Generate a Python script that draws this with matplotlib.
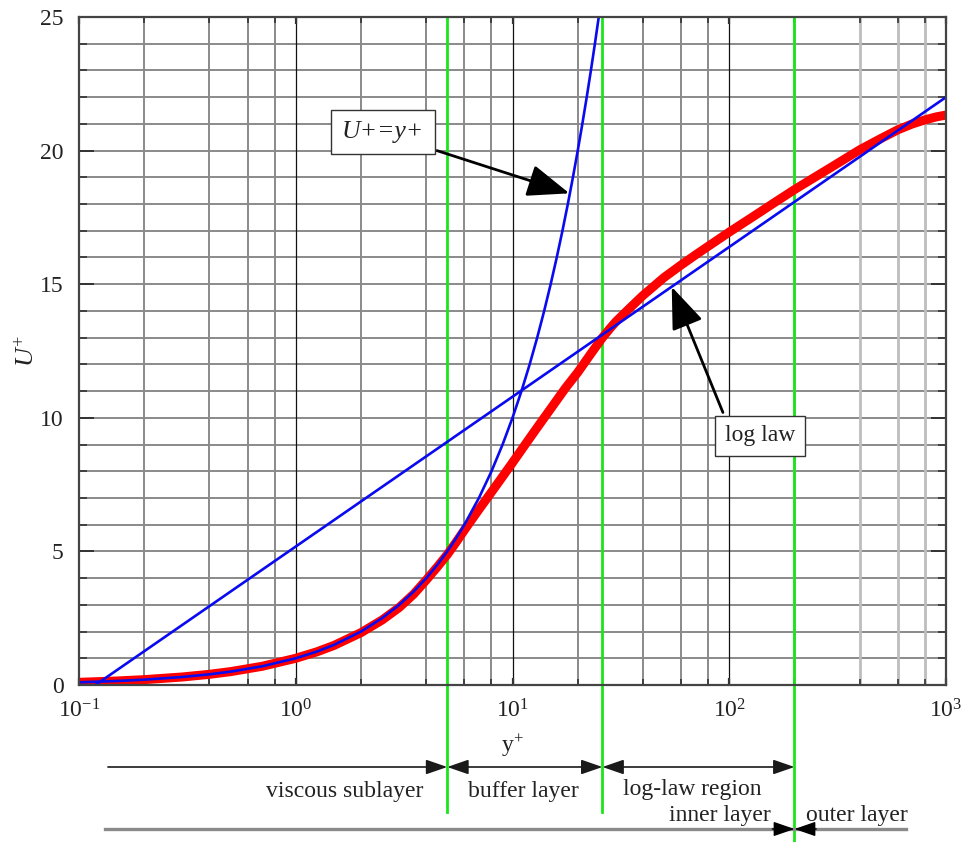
import matplotlib
matplotlib.use("Agg")
import matplotlib.pyplot as plt
from matplotlib.ticker import LogLocator, NullFormatter, MultipleLocator
import matplotlib.transforms as mtransforms

plt.rcParams['font.family'] = ['Liberation Serif', 'DejaVu Serif']
plt.rcParams['mathtext.fontset'] = 'custom'
plt.rcParams['mathtext.rm'] = 'Liberation Serif'
plt.rcParams['mathtext.it'] = 'Liberation Serif:italic'

# ---- data ----
# viscous sublayer law U+ = y+
visc_yplus = [0.1, 0.15, 0.2, 0.3, 0.4, 0.5, 0.7, 1, 1.25, 1.5, 2, 2.5, 3, 3.5, 4, 4.5,
              5, 5.5, 6, 7, 8, 9, 10, 11, 12, 13, 14, 15, 16, 17, 18, 19, 20, 21, 22,
              23, 24, 25]
visc_uplus = [0.1, 0.15, 0.2, 0.3, 0.4, 0.5, 0.7, 1, 1.25, 1.5, 2, 2.5, 3, 3.5, 4, 4.5,
              5, 5.5, 6, 7, 8, 9, 10, 11, 12, 13, 14, 15, 16, 17, 18, 19, 20, 21, 22,
              23, 24, 25]
# log law line
log_yplus = [0.119, 1000]
log_uplus = [0.0, 22.0]
# composite velocity profile (red)
prof_yplus = [0.1, 0.15, 0.2, 0.3, 0.4, 0.5, 0.7, 1, 1.25, 1.5, 2, 2.5, 3, 3.5, 4, 4.5,
              5, 5.5, 6, 7, 8, 9, 10, 11, 12.5, 14, 15.5, 17.5, 20, 23, 26, 28, 30, 35,
              40, 50, 60, 70, 80, 100, 130, 160, 200, 250, 300, 400, 500, 600, 700,
              800, 900, 1000]
prof_uplus = [0.1, 0.15, 0.2, 0.3, 0.4, 0.5, 0.7, 1.0, 1.24, 1.48, 1.96, 2.43, 2.9, 3.4,
              3.93, 4.42, 4.88, 5.35, 5.8, 6.57, 7.22, 7.8, 8.32, 8.8, 9.44, 10.0, 10.5,
              11.1, 11.7, 12.4, 13.0, 13.32, 13.6, 14.13, 14.58, 15.25, 15.72, 16.1,
              16.42, 16.95, 17.55, 18.03, 18.54, 19.02, 19.41, 20.03, 20.45, 20.78,
              21.0, 21.15, 21.26, 21.33]
# region boundaries (y+)
bounds = [5, 26, 200]

# annotations
ann_visc_tip = (18.3, 18.4)
ann_visc_tail = (4.48, 20.0)
ann_visc_text = (2.53, 20.7)
ann_log_tip = (54.3, 14.9)
ann_log_tail = (93.5, 10.2)
ann_log_text = (138.7, 9.32)

tick_vals = [0.1, 1, 10, 100, 1000]
tick_labels = [r'$10^{\mathrm{-}1}$', r'$10^{0}$', r'$10^{1}$', r'$10^{2}$', r'$10^{3}$']

W, H = 964, 842
fig = plt.figure(figsize=(W / 100, H / 100), dpi=100)
ax = fig.add_axes([79 / W, 1 - 685 / H, 867 / W, 668 / H])
ax.set_xscale('log')
ax.set_xlim(0.1, 1000)
ax.set_ylim(0, 25)

txtc = '#222222'
FS = 17

# grid
for u in range(1, 25):
    ax.axhline(u, color='#8a8a8a', lw=1.4, zorder=1)
for dec in [0.1, 1, 10, 100]:
    for m in [2, 4, 6, 8]:
        ax.axvline(m * dec, color='#8a8a8a' if dec < 100 else '#bdbdbd',
                   lw=1.4 if dec < 100 else 2.0, zorder=1)
for dec in [1, 10, 100]:
    ax.axvline(dec, color='#111111', lw=0.9, zorder=1.1)

# region boundaries (green), extending below axes
blend = mtransforms.blended_transform_factory(ax.transData, ax.transAxes)
ends = [-0.19, -0.19, -0.24]
for b, e in zip(bounds, ends):
    ax.plot([b, b], [1, e], transform=blend, color='#19e619', lw=2.0,
            clip_on=False, zorder=2)

# curves
ax.plot(prof_yplus, prof_uplus, color='#ff0000', lw=6.5, solid_capstyle='round',
        solid_joinstyle='round', zorder=3)
ax.plot(visc_yplus, visc_uplus, color='#0a0af0', lw=1.9, zorder=4)
ax.plot(log_yplus, log_uplus, color='#0a0af0', lw=1.9, zorder=4)

# ticks
ax.set_xticks(tick_vals)
ax.set_xticklabels(tick_labels)
ax.xaxis.set_minor_locator(LogLocator(base=10, subs=[2, 4, 6, 8]))
ax.xaxis.set_minor_formatter(NullFormatter())
ax.yaxis.set_major_locator(MultipleLocator(5))
ax.yaxis.set_minor_locator(MultipleLocator(1))
ax.tick_params(axis='both', which='both', direction='in', top=True, right=True,
               colors='#333333', labelcolor=txtc, labelsize=FS)
ax.tick_params(axis='y', which='major', length=11, width=1.4, pad=11)
ax.tick_params(axis='y', which='minor', length=6, width=1.2)
ax.tick_params(axis='x', which='major', length=5, width=1.6, pad=10)
ax.tick_params(axis='x', which='minor', length=4, width=1.2)
for s in ax.spines.values():
    s.set_color('#444444')
    s.set_linewidth(1.6)
    s.set_zorder(5)

ax.set_ylabel(r'$U^{+}$', fontsize=19, color=txtc)
ax.yaxis.set_label_coords(-0.046, 0.5)
ax.set_xlabel(r'y$^{+}$', fontsize=FS, color=txtc)
ax.xaxis.set_label_coords(0.5, -0.071)

# annotations with big arrows
big = dict(arrowstyle='-|>,head_length=2.6,head_width=1.0', mutation_scale=10,
           lw=2.0, color='black', shrinkA=0, shrinkB=0)
ax.annotate('', xy=ann_visc_tip, xytext=ann_visc_tail, arrowprops=big, zorder=6)
ax.annotate('', xy=ann_log_tip, xytext=ann_log_tail, arrowprops=big, zorder=6)
boxp = dict(boxstyle='square,pad=0.42', fc='white', ec='#333333', lw=1.0)
ax.text(*ann_visc_text, 'U+=y+', style='italic', fontsize=18.5, color=txtc,
        ha='center', va='center', bbox=boxp, zorder=7)
ax.text(*ann_log_text, 'log law', fontsize=FS, color=txtc,
        ha='center', va='center', bbox=boxp, zorder=7)

# region arrows below the axes
fblend = mtransforms.blended_transform_factory(ax.transData, fig.transFigure)
y1 = 1 - 767 / H
y2 = 1 - 829 / H
small1 = '-|>,head_length=1.3,head_width=0.45'
small2 = '<|-|>,head_length=1.3,head_width=0.45'
def arr(x0, x1, y, style, color, lw):
    ax.annotate('', xy=(x1, y), xycoords=fblend, xytext=(x0, y), textcoords=fblend,
                arrowprops=dict(arrowstyle=style, mutation_scale=10, lw=lw,
                                color=color, shrinkA=0, shrinkB=0),
                annotation_clip=False)
arr(0.136, bounds[0], y1, small1, '#1a1a1a', 1.2)
arr(bounds[0], bounds[1], y1, small2, '#1a1a1a', 1.2)
arr(bounds[1], bounds[2], y1, small2, '#1a1a1a', 1.2)
# inner / outer layer line
ax.plot([0.132, 654], [y2, y2], transform=fblend, color='#8a8a8a', lw=2.4,
        clip_on=False, zorder=2)
arr(158, bounds[2], y2, small1, 'black', 1.0)
arr(252, bounds[2], y2, small1, 'black', 1.0)

def ftext(xpix, ypix, s, ha='center'):
    fig.text(xpix / W, 1 - ypix / H, s, fontsize=FS, color=txtc, ha=ha, va='center')
ftext(345, 792, 'viscous sublayer')
ftext(523, 792, 'buffer layer')
ftext(692, 789, 'log-law region')
ftext(720, 816, 'inner layer')
ftext(857, 816, 'outer layer')

fig.savefig('out.png', dpi=100)
